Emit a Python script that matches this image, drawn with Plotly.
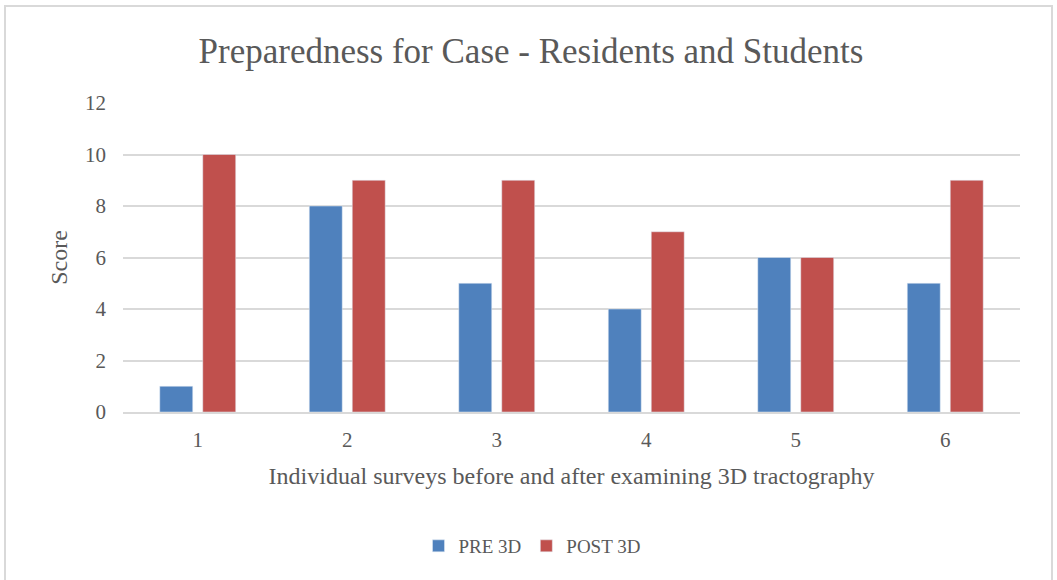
import plotly.graph_objects as go

categories = ["1", "2", "3", "4", "5", "6"]
pre_3d = [1, 8, 5, 4, 6, 5]
post_3d = [10, 9, 9, 7, 6, 9]
y_ticks = [0, 2, 4, 6, 8, 10, 12]

FONT = "Liberation Serif"
TXT = "#595959"

fig = go.Figure()
fig.add_trace(go.Bar(name="PRE 3D", x=categories, y=pre_3d, marker_color="#4F81BD"))
fig.add_trace(go.Bar(name="POST 3D", x=categories, y=post_3d, marker_color="#C0504D"))

L, R, T, B = 123, 37, 103, 168
W, H = 1057, 580
pw = W - L - R
ph = H - T - B

fig.update_layout(
    width=W, height=H,
    margin=dict(l=L, r=R, t=T, b=B, autoexpand=False),
    paper_bgcolor="white", plot_bgcolor="white",
    barmode="group", bargap=0.425, bargroupgap=0.233,
    font=dict(family=FONT, color=TXT),
    title=dict(text="Preparedness for Case - Residents and Students",
               x=(531 - L) / pw, xref="paper", xanchor="center", y=1 - 51 / H, yanchor="middle",
               font=dict(family=FONT, size=35, color=TXT)),
    legend=dict(orientation="h", x=(532 - L) / pw, xanchor="center",
                y=(H - B - 546) / ph, yanchor="middle",
                font=dict(family=FONT, size=19, color=TXT),
                itemwidth=30, tracegroupgap=0),
    showlegend=True,
    shapes=[dict(type="rect", xref="paper", yref="paper",
                 x0=(5 - L) / pw, x1=(1052 - L) / pw,
                 y0=(H - B - 600) / ph, y1=(H - B - 6) / ph,
                 line=dict(color="#D9D9D9", width=2), fillcolor="rgba(0,0,0,0)", layer="below")],
)
fig.update_xaxes(
    title=dict(text="Individual surveys before and after examining 3D tractography",
               font=dict(family=FONT, size=24, color=TXT), standoff=16),
    tickfont=dict(family=FONT, size=21, color=TXT),
    showgrid=False, showline=True, linecolor="#D9D9D9", linewidth=1.5,
    ticks="", ticklabelstandoff=8,
)
fig.update_yaxes(
    title=dict(text="Score", font=dict(family=FONT, size=24, color=TXT), standoff=10),
    tickfont=dict(family=FONT, size=21, color=TXT),
    range=[0, 12], tickvals=y_ticks, showgrid=True, gridcolor="#D9D9D9", gridwidth=1.5,
    zeroline=False, showline=False, ticks="", ticklabelstandoff=16,
)

fig.write_html("out.html", config={"displayModeBar": False},
               post_script="document.body.style.margin='0';document.body.style.overflow='hidden';")
